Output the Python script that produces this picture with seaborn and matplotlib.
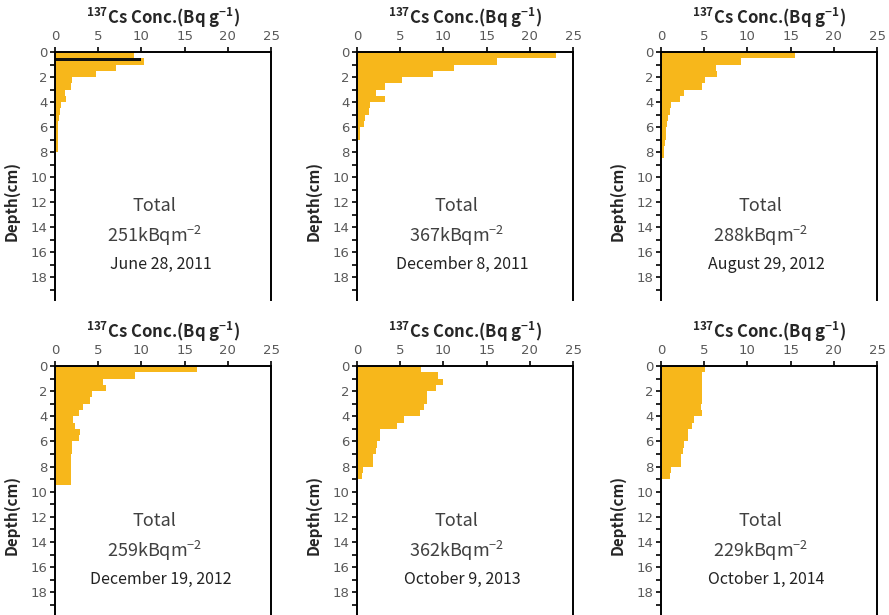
import pandas as pd
import matplotlib.pyplot as plt
import seaborn as sns

sns.set_style('ticks')
plt.rcParams['font.family'] = ['Noto Sans CJK JP', 'DejaVu Sans']
plt.rcParams['mathtext.fontset'] = 'custom'
plt.rcParams['mathtext.rm'] = 'Noto Sans CJK JP'
plt.rcParams['mathtext.bf'] = 'Noto Sans CJK JP:bold'

# 137Cs concentration (Bq/g) per 0.5 cm slice, from the surface down
slice_cm = 0.5
jun_2011 = [9.2, 10.3, 7.1, 4.7, 2.0, 1.9, 1.15, 1.3, 0.7, 0.6, 0.45, 0.4, 0.4, 0.35, 0.35, 0.35]
dec_2011 = [23.0, 16.2, 11.2, 8.8, 5.2, 3.2, 2.2, 3.2, 1.5, 1.35, 0.9, 0.8, 0.4, 0.3]
aug_2012 = [15.5, 9.3, 6.35, 6.5, 5.1, 4.7, 2.7, 2.2, 1.2, 1.05, 0.8, 0.7, 0.6, 0.6, 0.5, 0.4, 0.3]
dec_2012 = [16.4, 9.3, 5.5, 5.9, 4.3, 4.1, 3.2, 2.8, 2.1, 2.35, 2.9, 2.8, 2.0, 2.0, 1.9, 1.9, 1.9, 1.9, 1.9]
oct_2013 = [7.4, 9.35, 9.9, 9.1, 8.1, 8.1, 7.8, 7.3, 5.4, 4.6, 2.7, 2.7, 2.3, 2.2, 1.8, 1.8, 0.7, 0.6]
oct_2014 = [5.1, 4.7, 4.7, 4.7, 4.7, 4.7, 4.6, 4.7, 3.85, 3.6, 3.15, 3.1, 2.7, 2.6, 2.3, 2.3, 1.15, 1.05]

# thin dark layer drawn in the first profile
marker_depth = 0.5
marker_conc = 10.0

profiles = [jun_2011, dec_2011, aug_2012, dec_2012, oct_2013, oct_2014]
totals = ['251', '367', '288', '259', '362', '229']
dates = ['June 28, 2011', 'December 8, 2011', 'August 29, 2012',
         'December 19, 2012', 'October 9, 2013', 'October 1, 2014']

bar_color = '#F7B71B'
W, H = 889, 615
fig = plt.figure(figsize=(W / 100, H / 100), dpi=100)

lefts = [55, 357, 661]
rows = [(52, 300), (366, 615)]

for i, vals in enumerate(profiles):
    r, c = divmod(i, 3)
    top, bot = rows[r]
    ax = fig.add_axes([lefts[c] / W, 1 - bot / H, 216 / W, (bot - top) / H])

    df = pd.DataFrame({'conc': vals})
    df['depth'] = df.index * slice_cm + slice_cm / 2
    edges = [k * slice_cm for k in range(len(df) + 1)]
    sns.histplot(data=df, y='depth', weights='conc', bins=edges, ax=ax,
                 color=bar_color, alpha=1, edgecolor='none', linewidth=0, shrink=1)
    if i == 0:
        ax.barh(marker_depth, marker_conc, height=0.18, align='edge',
                color='#111111', edgecolor='none', linewidth=0)

    ax.set_xlim(0, 25)
    ax.set_ylim(19.8, 0)
    ax.xaxis.tick_top()
    ax.xaxis.set_label_position('top')
    ax.set_xticks(range(0, 26, 5))
    ax.set_yticks(range(0, 19, 2))
    ax.set_yticks(range(1, 20, 2), minor=True)
    ax.tick_params(which='both', direction='out', length=3.5, width=1.2,
                   color='black', labelcolor='#595959', labelsize=9.5, pad=2)
    ax.tick_params(axis='x', pad=3)
    for lab in ax.get_xticklabels() + ax.get_yticklabels():
        lab.set_family('DejaVu Sans')
    for s in ['left', 'top', 'right']:
        ax.spines[s].set_linewidth(1.4)
        ax.spines[s].set_color('black')
    ax.spines['bottom'].set_visible(False)

    ax.set_xlabel(r'$^{\mathbf{137}}$Cs Conc.(Bq g$^{\mathbf{-1}}$)',
                  fontsize=12, fontweight='bold', labelpad=4)
    ax.set_ylabel('Depth(cm)', fontsize=11, fontweight='bold')
    ax.yaxis.set_label_coords(-0.165, 0.40)

    ax.text(11.5, 12.3, 'Total', ha='center', va='center', fontsize=13, color='#404040')
    ax.text(11.5, 14.7, totals[i] + r'kBqm$^{-2}$', ha='center', va='center',
            fontsize=13, color='#404040')
    ax.text(12.2, 17.0, dates[i], ha='center', va='center', fontsize=11.5, color='#222222')

fig.savefig('out.png', dpi=100)
